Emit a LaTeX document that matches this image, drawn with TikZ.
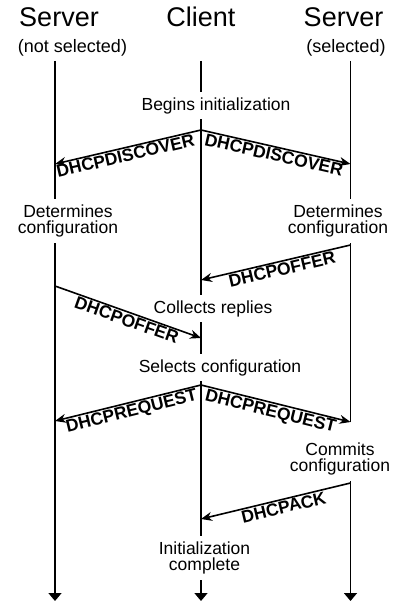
\documentclass[tikz,border=0pt]{standalone}
\usepackage{fontspec}
\setmainfont{Liberation Sans}
\usepackage{tikz}
\usetikzlibrary{arrows,arrows.meta,positioning}

\begin{document}
\begin{tikzpicture}[x=1pt, y=-1pt, line width=1.6pt,
  >={Stealth[length=11pt,width=9pt]},
  title/.style={font=\fontsize{27}{27}\selectfont, anchor=base},
  subtitle/.style={font=\fontsize{18}{18}\selectfont, anchor=base},
  event/.style={font=\fontsize{17.5}{16.5}\selectfont, align=center, inner xsep=0pt, inner ysep=5pt},
  msglabel/.style={font=\fontsize{17.5}{17.5}\selectfont\bfseries, sloped, below, inner sep=1pt},
  lifeline/.style={-{Triangle[width=13pt,length=8pt]}}]
\useasboundingbox (0,0) rectangle (400,602);
%%%%% Heads %%%%%
\node[title] (srvL) at (59,27) {Server};
\node[subtitle] (srvLsub) at (72.5,52.5) {(not selected)};
\node[title] (cli) at (201,27) {Client};
\node[title] (srvR) at (343.5,27) {Server};
\node[subtitle] (srvRsub) at (346,52.5) {(selected)};
%%%%% Lifeline ends %%%%%
\coordinate (Ltop) at (55,61);  \coordinate (Lbot) at (55,601);
\coordinate (Ctop) at (201,61); \coordinate (Cbot) at (201,601);
\coordinate (Rtop) at (350.5,61); \coordinate (Rbot) at (350.5,601);
%%%%% Events %%%%%
\node[event, anchor=base] (begins) at (216,110) {Begins initialization};
\node[event, anchor=north] (detL) at (68,199) {Determines\\configuration};
\node[event, anchor=north] (detR) at (338,199) {Determines\\configuration};
\node[event, anchor=base] (collects) at (213,313) {Collects replies};
\node[event, anchor=base] (selects) at (220,372) {Selects configuration};
\node[event, anchor=north] (commits) at (340,437) {Commits\\configuration};
\node[event, anchor=north] (initdone) at (204.5,536) {Initialization\\complete};
%%%%% Message points %%%%%
\coordinate (c1) at (201,130);
\coordinate (sL1) at (55,164);
\coordinate (sR1) at (350.5,164);
\coordinate (sR2) at (350.5,245);
\coordinate (c2) at (201,280);
\coordinate (sL2) at (55,286);
\coordinate (c3) at (201,338);
\coordinate (c4) at (201,385);
\coordinate (sL3) at (55,421);
\coordinate (sR3) at (350.5,422);
\coordinate (sR4) at (350.5,483);
\coordinate (c5) at (201,519);
%%%%% Lifelines %%%%%
\draw (Ltop) -- (detL.north -| Ltop);
\draw[lifeline] (detL.south -| Ltop) -- (Lbot);
\draw (Ctop) -- (begins.north -| Ctop);
\draw (begins.south -| Ctop) -- (collects.north -| Ctop);
\draw (collects.south -| Ctop) -- (selects.north -| Ctop);
\draw (selects.south -| Ctop) -- (initdone.north -| Ctop);
\draw[lifeline] (initdone.south -| Ctop) -- (Cbot);
\draw (Rtop) -- (detR.north -| Rtop);
\draw (detR.south -| Rtop) -- (sR3);
\draw[lifeline] (commits.south -| Rtop) -- (Rbot);
%%%%% Messages %%%%%
\draw[<-] (sL1) -- (c1) node[msglabel, pos=0.47] {DHCPDISCOVER};
\draw[->] (c1) -- (sR1) node[msglabel, midway] {DHCPDISCOVER};
\draw[<-] (c2) -- (sR2) node[msglabel, pos=0.53] {DHCPOFFER};
\draw[->] (sL2) -- (c3) node[msglabel, pos=0.51] {DHCPOFFER};
\draw[<-] (sL3) -- (c4) node[msglabel, pos=0.51] {DHCPREQUEST};
\draw[->] (c4) -- (sR3) node[msglabel, pos=0.48] {DHCPREQUEST};
\draw[<-] (c5) -- (sR4) node[msglabel, pos=0.54] {DHCPACK};
\end{tikzpicture}
\end{document}
